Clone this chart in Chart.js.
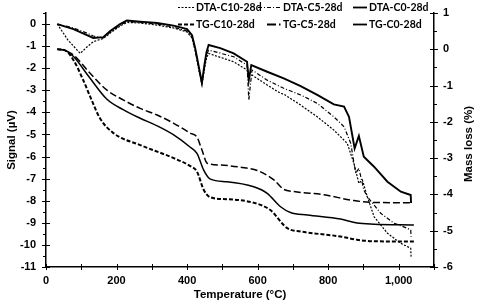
<!DOCTYPE html>
<html>
<head>
<meta charset="utf-8">
<script src="https://cdn.jsdelivr.net/npm/chart.js@4.4.0/dist/chart.umd.min.js"></script>
<style>
html, body {margin: 0; padding: 0; background: #fff;}
#wrap {width: 482px; height: 306px;}
</style>
</head>
<body>
<div id="wrap"><canvas id="thermoChart" width="482" height="306"></canvas></div>
<script>
//DTA curves (signal, left axis)
const dtaC10T = [32, 62, 97, 116, 134, 163, 182, 210, 229, 267, 315, 362, 400, 414, 423, 435, 442, 449, 455, 461, 532, 570, 575, 584, 627, 665, 674, 722, 769, 816, 854, 873, 887, 897, 911, 930, 968, 1006, 1034, 1035];
const dtaC10 = [0, -0.72, -1.33, -1.04, -0.8, -0.65, -0.41, -0.09, 0.07, 0.05, -0.05, -0.18, -0.36, -0.63, -1.22, -2.22, -2.72, -2.08, -1.54, -1.33, -1.71, -2.08, -2.39, -2.31, -2.76, -3.14, -3.17, -3.67, -4.2, -4.8, -5.4, -6.31, -7.21, -7.06, -7.82, -8.72, -9.47, -9.93, -10.15, -10.53];

const dtaC5T = [32, 78, 116, 134, 163, 182, 210, 229, 267, 315, 362, 400, 414, 423, 435, 442, 449, 455, 461, 532, 570, 575, 584, 627, 674, 722, 769, 816, 845, 864, 878, 887, 901, 911, 949, 987, 1025, 1034, 1035];
const dtaC5 = [0, -0.18, -0.41, -0.54, -0.63, -0.36, -0.05, 0.11, 0.07, 0, -0.14, -0.32, -0.59, -1.18, -2.17, -2.72, -1.99, -1.4, -1.18, -1.48, -1.86, -3.44, -2.08, -2.54, -2.91, -3.21, -3.59, -4.2, -4.65, -5.4, -6.76, -6.53, -7.51, -7.82, -8.57, -9.02, -9.25, -9.33, -9.63];

const dtaC0T = [32, 78, 116, 134, 163, 182, 210, 229, 267, 315, 362, 400, 414, 423, 435, 442, 449, 455, 461, 494, 532, 570, 575, 582, 627, 674, 722, 769, 816, 845, 859, 875, 887, 901, 930, 968, 1006, 1034, 1035];
const dtaC0 = [0, -0.23, -0.5, -0.63, -0.59, -0.32, 0, 0.16, 0.11, 0.05, -0.07, -0.23, -0.5, -1.09, -2.08, -2.66, -1.86, -1.27, -0.95, -1.09, -1.33, -1.71, -2.54, -1.86, -2.16, -2.46, -2.81, -3.21, -3.64, -3.74, -4.2, -5.63, -5.07, -6.01, -6.46, -7.14, -7.59, -7.74, -8.1];

//TG curves (mass loss, right axis)
const tgC10T = [32, 54, 78, 106, 125, 153, 191, 267, 362, 409, 428, 447, 466, 513, 589, 636, 684, 722, 835, 882, 930, 1043];
const tgC10 = [0, -0.03, -0.3, -0.86, -1.3, -1.9, -2.31, -2.64, -3.0, -3.22, -3.37, -3.87, -4.08, -4.13, -4.23, -4.43, -4.93, -5.02, -5.16, -5.25, -5.29, -5.3];

const tgC5T = [32, 54, 78, 125, 172, 220, 267, 315, 362, 409, 428, 442, 457, 494, 551, 599, 646, 674, 703, 788, 873, 930, 1034];
const tgC5 = [0, -0.03, -0.16, -0.66, -1.12, -1.4, -1.63, -1.81, -2.04, -2.31, -2.42, -2.77, -3.14, -3.19, -3.25, -3.34, -3.6, -3.86, -3.92, -4.01, -4.17, -4.22, -4.23];

const tgC0T = [32, 54, 78, 125, 172, 220, 267, 315, 362, 409, 428, 447, 466, 513, 589, 627, 665, 693, 741, 835, 882, 930, 1043];
const tgC0 = [0, -0.03, -0.2, -0.8, -1.37, -1.67, -1.9, -2.11, -2.36, -2.7, -2.87, -3.33, -3.58, -3.65, -3.79, -3.97, -4.34, -4.5, -4.57, -4.68, -4.79, -4.82, -4.84];

//Tick labels
const xTicks = [0, 200, 400, 600, 800, 1000];
const xMarks = [0, 100, 200, 300, 400, 500, 600, 700, 800, 900, 1000, 1100];
const leftTicks = [-11, -10, -9, -8, -7, -6, -5, -4, -3, -2, -1, 0];
const rightTicks = [-6, -5, -4, -3, -2, -1, 0, 1];

const tickFont = {family: "'Liberation Sans', Arial, sans-serif", size: 11, weight: 'bold'};
const titleFont = {family: "'Liberation Sans', Arial, sans-serif", size: 11.5, weight: 'bold'};

function pts(ts, vs) {
    return ts.map((t, i) => ({x: t, y: vs[i]}));
}

function series(label, ts, vs, axis, dash, width, smooth) {
    return {
        label: label,
        data: pts(ts, vs),
        yAxisID: axis,
        borderColor: '#000',
        backgroundColor: '#000',
        borderWidth: width,
        borderDash: dash,
        pointRadius: 0,
        fill: false,
        cubicInterpolationMode: smooth ? 'monotone' : 'default',
        tension: 0
    };
}

const datasets = [
    series('DTA-C10-28d', dtaC10T, dtaC10, 'yL', [2, 1.5], 1.2, false),
    series('DTA-C5-28d', dtaC5T, dtaC5, 'yL', [4, 2, 1, 2], 1.2, false),
    series('DTA-C0-28d', dtaC0T, dtaC0, 'yL', [], 1.9, false),
    series('TG-C10-28d', tgC10T, tgC10, 'yR', [4, 2], 2, true),
    series('TG-C5-28d', tgC5T, tgC5, 'yR', [7, 3], 1.5, true),
    series('TG-C0-28d', tgC0T, tgC0, 'yR', [], 1.5, true)
];

//Legend layout: [dataset index, sample x, text x, row y, sample dash, sample width]
const legendItems = [
    [0, 178, 196, 7, [2, 1.5], 1.2],
    [1, 258, 283, 7, [4, 2, 1, 2], 1.2],
    [2, 353, 369, 7, [], 1.8],
    [3, 178, 196, 24, [4, 2], 2],
    [4, 267, 283, 24, [9, 3, 1.5, 3], 1.8],
    [5, 353, 369, 24, [], 1.8]
];

function line(ctx, x1, y1, x2, y2) {
    ctx.beginPath();
    ctx.moveTo(x1, y1);
    ctx.lineTo(x2, y2);
    ctx.stroke();
}

//Tick marks, right axis title and legend
const decor = {
    id: 'decor',
    afterDraw(chart) {
        const ctx = chart.ctx;
        const xs = chart.scales.x, yl = chart.scales.yL, yr = chart.scales.yR;
        const area = chart.chartArea;
        ctx.save();
        ctx.strokeStyle = '#000';
        ctx.lineWidth = 1;

        xMarks.forEach(v => {
            const px = Math.round(xs.getPixelForValue(v)) + 0.5;
            line(ctx, px, area.bottom - 3, px, area.bottom + 3);
        });
        for (let v = -11; v <= 0.5; v += 0.5) {
            const py = Math.round(yl.getPixelForValue(v)) + 0.5;
            if (Number.isInteger(v)) line(ctx, area.left - 4, py, area.left + 4, py);
            else line(ctx, area.left - 3, py, area.left, py);
        }
        for (let v = -6; v <= 1; v += 0.5) {
            const py = Math.round(yr.getPixelForValue(v)) + 0.5;
            if (Number.isInteger(v)) line(ctx, area.right - 4, py, area.right + 4, py);
            else line(ctx, area.right, py, area.right + 3, py);
        }

        //Right axis title reads upwards
        ctx.fillStyle = '#000';
        ctx.font = "bold 11.5px 'Liberation Sans', Arial, sans-serif";
        ctx.textAlign = 'center';
        ctx.textBaseline = 'middle';
        ctx.save();
        ctx.translate(469, (area.top + area.bottom) / 2 + 4);
        ctx.rotate(-Math.PI / 2);
        ctx.fillText('Mass loss (%)', 0, 0);
        ctx.restore();

        //Legend
        ctx.font = "bold 10.5px Lato, 'Liberation Sans', sans-serif";
        ctx.textAlign = 'left';
        legendItems.forEach(item => {
            const [idx, sx, tx, ry, dash, w] = item;
            ctx.setLineDash(dash);
            ctx.lineWidth = w;
            line(ctx, sx, ry + 0.5, tx - 2, ry + 0.5);
            ctx.setLineDash([]);
            ctx.fillText(chart.data.datasets[idx].label, tx, ry + 1);
        });
        ctx.restore();
    }
};

new Chart(document.getElementById('thermoChart').getContext('2d'), {
    type: 'line',
    data: {datasets},
    options: {
        responsive: false,
        animation: false,
        events: [],
        layout: {padding: {top: 13, left: 0, right: 0, bottom: 0}},
        plugins: {
            legend: {display: false},
            tooltip: {enabled: false}
        },
        scales: {
            x: {
                type: 'linear',
                position: 'bottom',
                min: 0,
                max: 1100,
                afterBuildTicks: s => { s.ticks = xTicks.map(v => ({value: v})); },
                afterFit: s => { s.height = 39; },
                ticks: {color: '#000', font: tickFont, padding: 3, maxRotation: 0},
                grid: {drawOnChartArea: false, color: 'rgba(0,0,0,0)', tickLength: 4},
                border: {color: '#000', width: 1.5},
                title: {display: true, text: 'Temperature (°C)', color: '#000', font: titleFont, padding: {top: 2, bottom: 4}}
            },
            yL: {
                type: 'linear',
                position: 'left',
                min: -11,
                max: 0.5,
                afterBuildTicks: s => { s.ticks = leftTicks.map(v => ({value: v})); },
                afterFit: s => { s.width = 46; },
                ticks: {color: '#000', font: tickFont, padding: 5},
                grid: {drawOnChartArea: false, color: 'rgba(0,0,0,0)', tickLength: 5},
                border: {color: '#000', width: 1.5},
                title: {display: true, text: 'Signal (µV)', color: '#000', font: titleFont, padding: {top: 5, bottom: 2}}
            },
            yR: {
                type: 'linear',
                position: 'right',
                min: -6,
                max: 1,
                afterBuildTicks: s => { s.ticks = rightTicks.map(v => ({value: v})); },
                afterFit: s => { s.width = 48; },
                ticks: {color: '#000', font: tickFont, padding: 4},
                grid: {drawOnChartArea: false, color: 'rgba(0,0,0,0)', tickLength: 5},
                border: {color: '#000', width: 1.5}
            }
        }
    },
    plugins: [decor]
});
</script>
</body>
</html>
